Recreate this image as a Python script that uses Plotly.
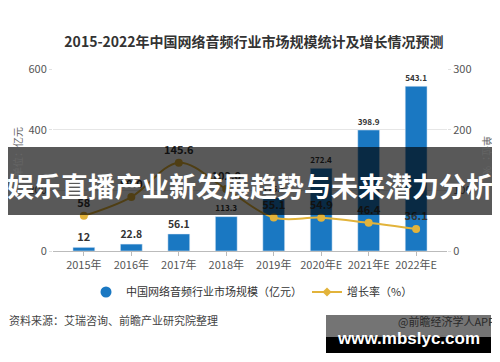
import plotly.graph_objects as go

years = ["2015年", "2016年", "2017年", "2018年", "2019年", "2020年E", "2021年E", "2022年E"]
market = [12, 22.8, 56.1, 113.3, 175.8, 272.4, 398.9, 543.1]
growth = [58, 89.0, 145.6, 102.0, 55.1, 54.9, 46.4, 36.1]
left_ticks = [0, 200, 400, 600]
right_ticks = [0, 100, 200, 300]

title = "2015-2022年中国网络音频行业市场规模统计及增长情况预测"
banner = "娱乐直播产业新发展趋势与未来潜力分析"
name_bar = "中国网络音频行业市场规模（亿元）"
name_line = "增长率（%）"
source = "资料来源：艾瑞咨询、前瞻产业研究院整理"
credit = "@前瞻经济学人APP"
site = "www.mbslyc.com"

BLUE = "#1a78c2"
GOLD = "#e2b33a"
FONT = "Noto Sans CJK SC"

# the page body adds an 8px offset; work in target-picture pixels
OFF = 8
W, H = 500 - OFF, 362 - OFF
L, R, T, B = 53, 447, 69, 251  # plot area in target pixels


def px(x):
    return (x - L) / (R - L)


def py(y):
    return (B - y) / (B - T)


fig = go.Figure()
fig.add_bar(
    x=years, y=market, marker_color=BLUE, width=0.46,
    text=[f"<b>{v}</b>" for v in market], textposition="outside",
    textfont=dict(size=11, color="#333", family=FONT),
    cliponaxis=False, showlegend=False,
)
fig.add_scatter(
    x=years, y=growth, yaxis="y2", mode="lines+markers+text",
    line=dict(color=GOLD, width=2, shape="spline"),
    marker=dict(size=8, color=GOLD),
    text=[f"<b>{v}</b>" for v in growth], textposition="top center",
    textfont=dict(size=11, color="#333", family=FONT),
    cliponaxis=False, showlegend=False,
)
# legend entries
fig.add_scatter(x=[None], y=[None], mode="markers", name=name_bar,
                marker=dict(size=11, color=BLUE, symbol="circle"))
fig.add_scatter(x=[None], y=[None], mode="lines+markers", name=name_line,
                line=dict(color=GOLD, width=2), marker=dict(size=7, color=GOLD, symbol="diamond"))

fig.update_layout(
    width=W, height=H,
    margin=dict(l=L - OFF, r=W - (R - OFF), t=T - OFF, b=H - (B - OFF)),
    paper_bgcolor="white", plot_bgcolor="white",
    font=dict(family=FONT, color="#555", size=11),
    title=dict(text=f"<b>{title}</b>", x=0.5, xanchor="center",
               y=1 - (42 - OFF) / H, yanchor="middle", yref="container",
               font=dict(size=14, color="#333", family=FONT)),
    xaxis=dict(range=[-0.65, 7.65], showline=True, linecolor="#bbb",
               ticks="outside", ticklen=4, tickcolor="#bbb",
               tickfont=dict(size=11, color="#555"), showgrid=False),
    yaxis=dict(range=[0, 600], tickvals=left_ticks, showgrid=True,
               gridcolor="#e6e6e6", zeroline=False, ticks="outside",
               ticklen=3, tickcolor="#e0e0e0", tickfont=dict(size=11, color="#555")),
    yaxis2=dict(range=[0, 300], tickvals=right_ticks, overlaying="y",
                side="right", showgrid=False, zeroline=False, ticks="outside",
                ticklen=3, tickcolor="#e0e0e0", tickfont=dict(size=11, color="#555")),
    legend=dict(orientation="h", x=px(252), xanchor="center", y=py(292),
                yanchor="middle", font=dict(size=11, color="#333"),
                itemwidth=30, bgcolor="rgba(0,0,0,0)"),
)

annotations = [
    dict(x=px(17), y=py(152), text="单位：亿元", textangle=-90,
         font=dict(size=10, color="#666")),
    dict(x=px(488), y=py(156), text="单位：%", textangle=90,
         font=dict(size=10, color="#666")),
    dict(x=px(7), y=py(320), text=source, xanchor="left",
         font=dict(size=11, color="#444")),
    dict(x=px(497), y=py(321), text=credit, xanchor="right",
         font=dict(size=11, color="#2a2a2a")),
    dict(x=px(250), y=py(185), text=f"<b>{banner}</b>",
         font=dict(size=27, color="white", family=FONT)),
    dict(x=px(408), y=py(338), text=f"<b>{site}</b>",
         font=dict(size=17, color="white", family="Liberation Sans")),
]
for a in annotations:
    a.setdefault("xanchor", "center")
    a.update(xref="paper", yref="paper", yanchor="middle", showarrow=False)
fig.update_layout(annotations=annotations)

shapes = [
    dict(type="rect", x0=px(7), x1=px(497), y0=py(215), y1=py(147),
         fillcolor="rgba(0,0,0,0.65)", line=dict(width=0), layer="above"),
    dict(type="rect", x0=px(326), x1=px(491), y0=py(337), y1=py(315),
         fillcolor="rgba(70,70,70,0.75)", line=dict(width=0), layer="above"),
    dict(type="rect", x0=px(326), x1=px(491), y0=py(353), y1=py(337),
         fillcolor="black", line=dict(width=0), layer="above"),
]
for s in shapes:
    s.update(xref="paper", yref="paper")
fig.update_layout(shapes=shapes)

fig.write_html("out.html")
